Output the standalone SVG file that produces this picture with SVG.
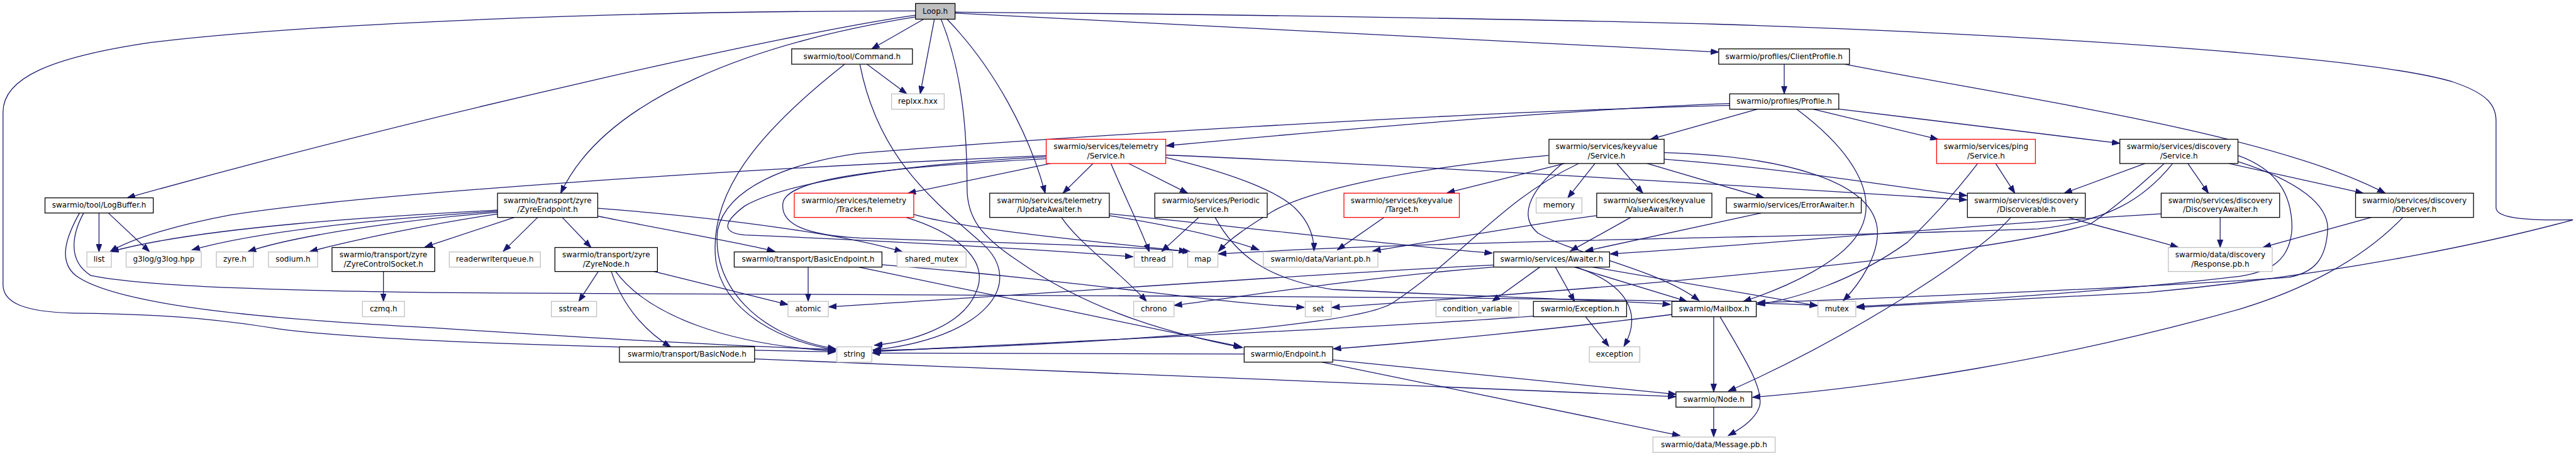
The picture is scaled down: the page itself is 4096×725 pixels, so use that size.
<svg xmlns="http://www.w3.org/2000/svg" width="4096" height="725" viewBox="0 0 4096 725">
<style>
.nd rect{fill:#fff;stroke:#000;stroke-width:1.33}
.nf rect{fill:#fff;stroke:#bfbfbf;stroke-width:1.33}
.nr rect{fill:#fff;stroke:#ff0000;stroke-width:1.33}
.root rect{fill:#bfbfbf;stroke:#000;stroke-width:1.33}
text{font-family:"DejaVu Sans","Liberation Sans",sans-serif;font-size:12.5px;text-anchor:middle;fill:#000}
.e path{fill:none;stroke:#191970;stroke-width:1.33;marker-end:url(#ah)}
</style>
<defs>
<marker id="ah" markerUnits="userSpaceOnUse" markerWidth="14" markerHeight="10" viewBox="0 0 14 10" refX="13" refY="5" orient="auto"><path d="M0,0.3 L13,5 L0,9.7 z" fill="#191970" stroke="#191970" stroke-width="1"/></marker>
</defs>
<rect x="0" y="0" width="4096" height="725" fill="#fff"/>
<g transform="scale(0.96285)">
<g id="connectors" class="e">
<path d="M1525.3,31.7 L1439.5,80.7"/>
<path d="M1543,31.7 L1519.6,155"/>
<path d="M1431.6,106 L1497.5,155"/>
<path d="M1512,25 C1300,55 700,190 210,326.7"/>
<path d="M1512,28 C1250,70 1000,160 926,319"/>
<path d="M1512,18 C1000,18 500,40 250,70 C80,95 5,130 5,185 L5,470 C5,500 40,515 120,517 C250,518 350,525 460,543 C600,562 900,572 1380,581"/>
<path d="M1564,31.7 C1640,110 1700,220 1726,319"/>
<path d="M1554,31.7 C1590,120 1597,220 1597,310 C1597,360 1620,390 1680,430 C1780,500 1900,545 2052,574"/>
<path d="M1577.2,21.7 L2838.3,86"/>
<path d="M1577.2,20 C2200,25 2700,36 2836,40 C3300,55 3900,90 4050,135 C4110,155 4122,175 4122,200 L4122,343 C4122,362 4180,364 4249,363 C4150,390 3900,450 3545,483 C3300,495 3150,503 3066,507.7"/>
<path d="M1395,106 C1250,220 1170,320 1182,430 C1195,520 1300,566 1380,578"/>
<path d="M1420,106 C1450,260 1540,330 1620,400 C1700,470 1620,560 1442,577.7"/>
<path d="M2946.5,106 L2946.5,155"/>
<path d="M3046.6,106 C3350,165 3750,220 3939,319"/>
<path d="M2856.4,171 C2600,180 2200,215 1926,240.7"/>
<path d="M2902,180.3 L2725.7,230"/>
<path d="M2994.5,180.3 L3200.5,230"/>
<path d="M3036.6,180 L3500.7,236.7"/>
<path d="M2967,180.3 C3060,250 3100,320 3073.7,376 C3050,430 2950,475 2879,497.7"/>
<path d="M2856.4,174 C2400,185 1700,230 1419,253 C1300,270 1200,310 1185,380 C1175,470 1250,555 1380,576"/>
<path d="M1735,270 L1499.5,319"/>
<path d="M1805,270 L1755.3,319"/>
<path d="M1864,270 L1961.3,319"/>
<path d="M1834.6,270 C1860,330 1885,380 1898,416"/>
<path d="M1727.7,257 C1200,280 600,320 380,355 C300,370 220,392 182,415.5"/>
<path d="M1727.7,259 C1500,270 1300,300 1230,340 C1190,370 1195,385 1230,388 C1400,395 1700,410 1871,424"/>
<path d="M1727.7,262 C1450,277 1300,295 1293,335 C1288,370 1330,388 1420,393 C1700,402 1900,408 1966,416"/>
<path d="M1925.1,256 C2300,272 2900,308 3248,330"/>
<path d="M1925.1,260 C2030,285 2110,315 2140,345 C2165,370 2170,395 2170,414.3"/>
<path d="M1509,354 C1600,380 1800,398 1960,415"/>
<path d="M1497,359.3 C1580,385 1635,430 1612,482 C1590,540 1500,565 1444,570"/>
<path d="M1753,359 C1780,400 1850,450 1893.5,497.7"/>
<path d="M1831.9,353 C2100,380 2300,405 2464.5,418"/>
<path d="M1831.9,356 C1950,375 2030,395 2079,412.7"/>
<path d="M1979.5,359 L1918.4,415.3"/>
<path d="M2006.6,359 C2040,420 2090,460 2200,478 C2450,490 2650,495 2758.6,502.7"/>
<path d="M824.5,346.7 C700,354 350,370 183,415.5"/>
<path d="M824.5,348.5 C700,357 450,375 317,412.7"/>
<path d="M824.5,350.5 C700,360 500,385 409.8,415.3"/>
<path d="M824.5,353 C720,368 590,395 511.7,415.3"/>
<path d="M849.4,359 L701.8,407.7"/>
<path d="M887.9,359 L831,415"/>
<path d="M928.6,359 L976,408.7"/>
<path d="M987.1,357 C1100,380 1220,400 1279.5,415"/>
<path d="M987.1,344 C1200,360 1400,388 1490.4,416"/>
<path d="M633.2,448.3 L633.2,497.7"/>
<path d="M988,448.3 L955.8,497.7"/>
<path d="M1009.5,448.3 C1030,510 1070,550 1107.5,572.7"/>
<path d="M1016.6,448.3 C1070,520 1200,570 1380,579.5"/>
<path d="M1080,448.3 L1301.3,503"/>
<path d="M1334.6,441 L1334.6,497.7"/>
<path d="M1418,441 L2050,572.7"/>
<path d="M1456.5,437 C1800,465 2000,500 2154,507.5"/>
<path d="M163.5,351.7 L163.5,416"/>
<path d="M178.9,351.7 L246.8,415.5"/>
<path d="M138.1,351.7 C120,385 110,430 150,455 C250,475 500,480 710,483 C1500,488 2700,488 3001.5,504.3"/>
<path d="M131.3,351.7 C110,390 95,430 125,455 C200,510 500,530 710,541 C1000,560 1250,573 1380,577"/>
<path d="M2543,441 L2464.3,497.7"/>
<path d="M2568.6,441 L2600.2,497.7"/>
<path d="M2602.5,441 C2690,470 2712,520 2681.7,572"/>
<path d="M2600,441 L2785.8,497.7"/>
<path d="M2630,441 L3001.5,505"/>
<path d="M2466.6,437.7 C2200,450 1800,480 1368.5,506.7"/>
<path d="M2466.6,441 C2250,458 2050,490 1939,504.3"/>
<path d="M2618.3,522.7 L2656.8,572"/>
<path d="M2532.3,522 C2300,540 1800,562 1442,580.5"/>
<path d="M2830,523 L2830,647"/>
<path d="M2840.5,523 C2880,590 2912,640 2906,670 C2900,690 2880,705 2854,719.3"/>
<path d="M2761,519.3 C2600,540 2350,565 2201.7,576"/>
<path d="M2200.8,594.3 L2767.7,651"/>
<path d="M2183.6,598 L2774.5,719.3"/>
<path d="M2054.6,584.5 L1440.5,583"/>
<path d="M2830,672.3 L2830,721.7"/>
<path d="M1246.1,592.7 C1500,602 2300,635 2767.7,655"/>
<path d="M3320.5,359 C3270,420 3050,560 2854,646"/>
<path d="M3415.6,359 C3480,378 3550,394 3597,408.3"/>
<path d="M3295.6,270 L3327.3,319"/>
<path d="M3266,270 C3220,330 3180,370 3150,400 C3060,465 2960,495 2902,502.7"/>
<path d="M3542.4,270 L3408.8,319"/>
<path d="M3613,270 L3647,319"/>
<path d="M3680.8,270 L3902.7,319"/>
<path d="M3574,270 C3530,310 3490,345 3452,370 C3250,430 2600,480 2199.5,507.7"/>
<path d="M3588,270 C3540,330 3480,365 3366,378 C3000,392 2400,396 2012,419.3"/>
<path d="M3695.8,256.7 C3760,280 3785,320 3785,377 C3782,430 3750,448 3700,456 C3500,480 3200,500 3066,506"/>
<path d="M3695.8,266.7 C3800,300 3844,340 3844,377 C3842,430 3820,450 3780,458 C3500,478 3100,492 2902,500"/>
<path d="M3916,359 L3737.4,408.3"/>
<path d="M3968,359 C3900,430 3800,480 3700,510 C3400,595 3100,640 2894,656"/>
<path d="M3666.4,359 L3666.4,408.7"/>
<path d="M3569,353 C3200,375 2900,405 2659,419.3"/>
<path d="M2908.4,351.7 L2618.3,414.5"/>
<path d="M2693,359 L2593.4,414.5"/>
<path d="M2637,356 C2560,365 2420,390 2267,414.3"/>
<path d="M2584,270 L2389.6,318.5"/>
<path d="M2634,270 L2589,326.7"/>
<path d="M2670,270 L2713,319"/>
<path d="M2720,270 L2913,326.7"/>
<path d="M2748.2,263 C2950,278 3100,305 3248,323"/>
<path d="M2748.2,252 C2950,258 3090,300 3100,376 C3105,420 3070,470 3044,496.5"/>
<path d="M2580,270 C2520,320 2510,360 2540,385 C2600,420 2740,445 2806,496.5"/>
<path d="M2607,270 C2480,330 2420,420 2300,500 C2230,545 1700,572 1442,579"/>
<path d="M2557,256.7 C2300,280 2150,320 2100,350 C2060,375 2030,395 2012,415.3"/>
<path d="M2285.5,359 L2208.5,412.7"/>
</g>
<g id="n-loop" class="root"><rect x="1511.9" y="5.7" width="65.3" height="26"/><text x="1544.5" y="23">Loop.h</text></g>
<g id="n-command" class="nd"><rect x="1307.4" y="80.7" width="199.4" height="25.3"/><text x="1407.1" y="97.2">swarmio/tool/Command.h</text></g>
<g id="n-replxx" class="nf"><rect x="1472.3" y="155" width="87" height="25.3"/><text x="1515.8" y="171.5">replxx.hxx</text></g>
<g id="n-clientprofile" class="nd"><rect x="2838.3" y="80.7" width="215.9" height="25.3"/><text x="2946.2" y="97.2">swarmio/profiles/ClientProfile.h</text></g>
<g id="n-profile" class="nd"><rect x="2856.4" y="155" width="180.2" height="25.3"/><text x="2946.5" y="171.5">swarmio/profiles/Profile.h</text></g>
<g id="n-logbuffer" class="nd"><rect x="74.3" y="326.7" width="178.8" height="25"/><text x="163.7" y="343.2">swarmio/tool/LogBuffer.h</text></g>
<g id="n-zyreendpoint" class="nd"><rect x="821.6" y="319" width="165.5" height="40"/><text x="904.3" y="335.3">swarmio/transport/zyre</text><text x="904.3" y="350.3">/ZyreEndpoint.h</text></g>
<g id="n-telemetry-service" class="nr"><rect x="1727.7" y="230" width="197.4" height="40"/><text x="1826.4" y="246.3">swarmio/services/telemetry</text><text x="1826.4" y="261.3">/Service.h</text></g>
<g id="n-tracker" class="nr"><rect x="1311.7" y="319" width="197.3" height="40"/><text x="1410.3" y="335.3">swarmio/services/telemetry</text><text x="1410.3" y="350.3">/Tracker.h</text></g>
<g id="n-updateawaiter" class="nd"><rect x="1634.4" y="319" width="197.5" height="40"/><text x="1733.1" y="335.3">swarmio/services/telemetry</text><text x="1733.1" y="350.3">/UpdateAwaiter.h</text></g>
<g id="n-periodicservice" class="nd"><rect x="1907" y="319" width="185.7" height="40"/><text x="1999.8" y="335.3">swarmio/services/Periodic</text><text x="1999.8" y="350.3">Service.h</text></g>
<g id="n-keyvalue-service" class="nd"><rect x="2558" y="230" width="190.2" height="40"/><text x="2653.1" y="246.3">swarmio/services/keyvalue</text><text x="2653.1" y="261.3">/Service.h</text></g>
<g id="n-keyvalue-target" class="nr"><rect x="2219.4" y="319" width="190.6" height="40"/><text x="2314.7" y="335.3">swarmio/services/keyvalue</text><text x="2314.7" y="350.3">/Target.h</text></g>
<g id="n-memory" class="nf"><rect x="2536.8" y="326.7" width="75.6" height="25"/><text x="2574.6" y="343.2">memory</text></g>
<g id="n-valueawaiter" class="nd"><rect x="2636.8" y="319" width="190.2" height="40"/><text x="2731.9" y="335.3">swarmio/services/keyvalue</text><text x="2731.9" y="350.3">/ValueAwaiter.h</text></g>
<g id="n-errorawaiter" class="nd"><rect x="2851" y="326.7" width="222.7" height="25"/><text x="2962.4" y="343.2">swarmio/services/ErrorAwaiter.h</text></g>
<g id="n-ping-service" class="nr"><rect x="3198.2" y="230" width="163.1" height="40"/><text x="3279.8" y="246.3">swarmio/services/ping</text><text x="3279.8" y="261.3">/Service.h</text></g>
<g id="n-discovery-service" class="nd"><rect x="3500.7" y="230" width="195.1" height="40"/><text x="3598.3" y="246.3">swarmio/services/discovery</text><text x="3598.3" y="261.3">/Service.h</text></g>
<g id="n-discoverable" class="nd"><rect x="3249" y="319" width="194.7" height="40"/><text x="3346.4" y="335.3">swarmio/services/discovery</text><text x="3346.4" y="350.3">/Discoverable.h</text></g>
<g id="n-discoveryawaiter" class="nd"><rect x="3569" y="319" width="195.6" height="40"/><text x="3666.8" y="335.3">swarmio/services/discovery</text><text x="3666.8" y="350.3">/DiscoveryAwaiter.h</text></g>
<g id="n-observer" class="nd"><rect x="3890" y="319" width="194.8" height="40"/><text x="3987.4" y="335.3">swarmio/services/discovery</text><text x="3987.4" y="350.3">/Observer.h</text></g>
<g id="n-list" class="nf"><rect x="143.5" y="416" width="40.4" height="25"/><text x="163.7" y="432.5">list</text></g>
<g id="n-g3log" class="nf"><rect x="208.3" y="416" width="124.1" height="25"/><text x="270.4" y="432.5">g3log/g3log.hpp</text></g>
<g id="n-zyre" class="nf"><rect x="357.3" y="416" width="61.1" height="25"/><text x="387.9" y="432.5">zyre.h</text></g>
<g id="n-sodium" class="nf"><rect x="443.3" y="416" width="81.1" height="25"/><text x="483.9" y="432.5">sodium.h</text></g>
<g id="n-zyrecontrolsocket" class="nd"><rect x="548.3" y="408.7" width="169.7" height="39.6"/><text x="633.2" y="425">swarmio/transport/zyre</text><text x="633.2" y="440">/ZyreControlSocket.h</text></g>
<g id="n-readerwriterqueue" class="nf"><rect x="742" y="416" width="150.4" height="25"/><text x="817.2" y="432.5">readerwriterqueue.h</text></g>
<g id="n-zyrenode" class="nd"><rect x="916.4" y="408.7" width="169.3" height="39.6"/><text x="1001" y="425">swarmio/transport/zyre</text><text x="1001" y="440">/ZyreNode.h</text></g>
<g id="n-basicendpoint" class="nd"><rect x="1212.5" y="416" width="244" height="25"/><text x="1334.5" y="432.5">swarmio/transport/BasicEndpoint.h</text></g>
<g id="n-shared-mutex" class="nf"><rect x="1481.4" y="416" width="114.1" height="25"/><text x="1538.5" y="432.5">shared_mutex</text></g>
<g id="n-thread" class="nf"><rect x="1873" y="416" width="63.5" height="25"/><text x="1904.8" y="432.5">thread</text></g>
<g id="n-map" class="nf"><rect x="1961.4" y="416" width="49.8" height="25"/><text x="1986.3" y="432.5">map</text></g>
<g id="n-variant" class="nf"><rect x="2086.3" y="416" width="189.2" height="25"/><text x="2180.9" y="432.5">swarmio/data/Variant.pb.h</text></g>
<g id="n-awaiter" class="nd"><rect x="2466.6" y="416" width="191.5" height="25"/><text x="2562.4" y="432.5">swarmio/services/Awaiter.h</text></g>
<g id="n-response" class="nf"><rect x="3580.8" y="408.7" width="171.6" height="39.6"/><text x="3666.6" y="425">swarmio/data/discovery</text><text x="3666.6" y="440">/Response.pb.h</text></g>
<g id="n-czmq" class="nf"><rect x="598.6" y="497.7" width="69.3" height="25.3"/><text x="633.3" y="514.2">czmq.h</text></g>
<g id="n-sstream" class="nf"><rect x="910.5" y="497.7" width="74.7" height="25.3"/><text x="947.9" y="514.2">sstream</text></g>
<g id="n-atomic" class="nf"><rect x="1301.3" y="497.7" width="66.6" height="25.3"/><text x="1334.6" y="514.2">atomic</text></g>
<g id="n-chrono" class="nf"><rect x="1872.2" y="497.7" width="66.6" height="25.3"/><text x="1905.5" y="514.2">chrono</text></g>
<g id="n-set" class="nf"><rect x="2155.5" y="497.7" width="43" height="25.3"/><text x="2177" y="514.2">set</text></g>
<g id="n-condition-variable" class="nf"><rect x="2371.5" y="497.7" width="136.8" height="25.3"/><text x="2439.9" y="514.2">condition_variable</text></g>
<g id="n-exception-h" class="nd"><rect x="2532.3" y="497.7" width="153.9" height="25.3"/><text x="2609.3" y="514.2">swarmio/Exception.h</text></g>
<g id="n-mailbox" class="nd"><rect x="2761" y="497.7" width="139.3" height="25.3"/><text x="2830.7" y="514.2">swarmio/Mailbox.h</text></g>
<g id="n-mutex" class="nf"><rect x="3002.2" y="497.7" width="62.5" height="25.3"/><text x="3033.5" y="514.2">mutex</text></g>
<g id="n-basicnode" class="nd"><rect x="1022.9" y="572.7" width="223.2" height="25.3"/><text x="1134.5" y="589.2">swarmio/transport/BasicNode.h</text></g>
<g id="n-string" class="nf"><rect x="1382" y="572.7" width="57.7" height="25.3"/><text x="1410.9" y="589.2">string</text></g>
<g id="n-endpoint" class="nd"><rect x="2054.6" y="572.7" width="146.2" height="25.3"/><text x="2127.7" y="589.2">swarmio/Endpoint.h</text></g>
<g id="n-exception" class="nf"><rect x="2624.6" y="572.7" width="83.4" height="25.3"/><text x="2666.3" y="589.2">exception</text></g>
<g id="n-node" class="nd"><rect x="2767.7" y="647" width="125.3" height="25.3"/><text x="2830.4" y="663.5">swarmio/Node.h</text></g>
<g id="n-message" class="nf"><rect x="2729.7" y="721.7" width="201.8" height="25.3"/><text x="2830.6" y="738.2">swarmio/data/Message.pb.h</text></g>
</g>
</svg>
